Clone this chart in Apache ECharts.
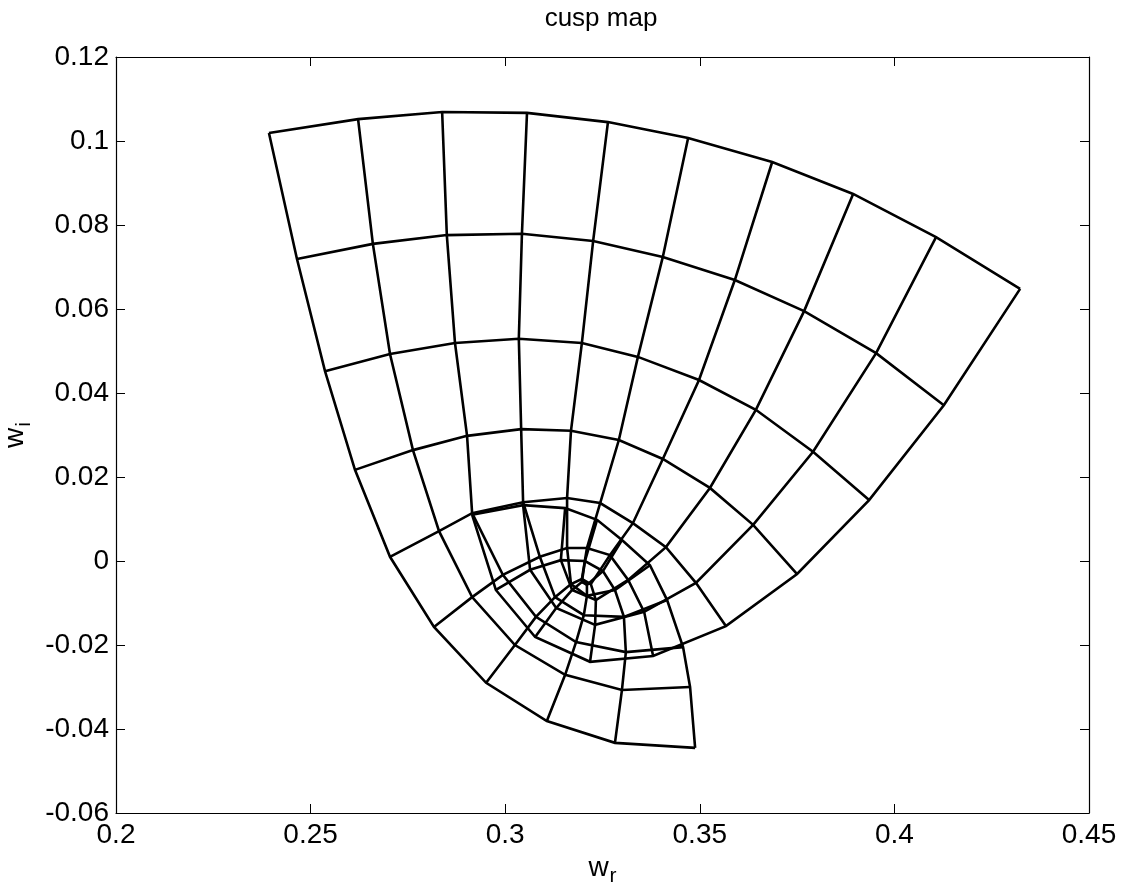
<!doctype html>
<html lang="en">
<head>
<meta charset="UTF-8"/>
<title>cusp map</title>
<script src="https://cdn.jsdelivr.net/npm/echarts@6/dist/echarts.min.js"></script>
<style>
  html, body { margin: 0; padding: 0; background: #fff; }
  #main { width: 1130px; height: 892px; }
</style>
</head>
<body>
<div id="main"></div>
<script type="text/javascript">
// mesh nodes
// rowX[i][j], rowY[i][j]: node on curve i of one family and curve j of the other
var rowX = [
  [0.2393, 0.2622, 0.2838, 0.3056, 0.3264, 0.3470, 0.3686, 0.3894, 0.4107, 0.4323],
  [0.2465, 0.2660, 0.2850, 0.3043, 0.3226, 0.3405, 0.3590, 0.3768, 0.3953, 0.4127],
  [0.2537, 0.2704, 0.2871, 0.3035, 0.3197, 0.3341, 0.3498, 0.3644, 0.3791, 0.3935],
  [0.2614, 0.2763, 0.2902, 0.3041, 0.3169, 0.3292, 0.3405, 0.3526, 0.3637, 0.3750],
  [0.2704, 0.2830, 0.2915, 0.3046, 0.3159, 0.3244, 0.3328, 0.3413, 0.3490, 0.3567],
  [0.2817, 0.2915, 0.2994, 0.3089, 0.3159, 0.3210, 0.3269, 0.3316, 0.3357, 0.3380],
  [0.2951, 0.3025, 0.3079, 0.3128, 0.3169, 0.3197, 0.3220, 0.3233, 0.3231, 0.3218],
  [0.3107, 0.3154, 0.3182, 0.3202, 0.3210, 0.3210, 0.3197, 0.3172, 0.3131, 0.3077],
  [0.3282, 0.3300, 0.3310, 0.3305, 0.3282, 0.3251, 0.3205, 0.3143, 0.3064, 0.2976],
  [0.3488, 0.3475, 0.3457, 0.3416, 0.3372, 0.3300, 0.3236, 0.3154, 0.3046, 0.2915]
];
var rowY = [
  [0.1019, 0.1052, 0.1069, 0.1067, 0.1045, 0.1007, 0.0950, 0.0874, 0.0771, 0.0648],
  [0.0719, 0.0755, 0.0776, 0.0779, 0.0762, 0.0724, 0.0669, 0.0595, 0.0495, 0.0371],
  [0.0452, 0.0493, 0.0519, 0.0529, 0.0519, 0.0486, 0.0431, 0.0360, 0.0260, 0.0145],
  [0.0217, 0.0264, 0.0298, 0.0314, 0.0310, 0.0288, 0.0243, 0.0174, 0.0086, -0.0031],
  [0.0010, 0.0071, 0.0114, 0.0140, 0.0150, 0.0138, 0.0090, 0.0033, -0.0052, -0.0155],
  [-0.0157, -0.0086, -0.0033, 0.0010, 0.0031, 0.0031, 0.0014, -0.0045, -0.0121, -0.0226],
  [-0.0290, -0.0200, -0.0133, -0.0086, -0.0055, -0.0043, -0.0055, -0.0093, -0.0152, -0.0240],
  [-0.0381, -0.0271, -0.0193, -0.0129, -0.0083, -0.0057, -0.0050, -0.0069, -0.0112, -0.0181],
  [-0.0433, -0.0307, -0.0217, -0.0133, -0.0069, -0.0024, 0.0000, 0.0002, -0.0021, -0.0069],
  [-0.0445, -0.0300, -0.0205, -0.0093, -0.0010, 0.0050, 0.0098, 0.0126, 0.0133, 0.0110]
];
var xTicks = [0.2, 0.25, 0.3, 0.35, 0.4, 0.45];
var yTicks = [-0.06, -0.04, -0.02, 0, 0.02, 0.04, 0.06, 0.08, 0.1, 0.12];

var font = '"Liberation Sans", Arial, Helvetica, sans-serif';

// one polyline per row and one per column
var lines = [];
for (var i = 0; i < rowX.length; i++) {
  var d = [];
  for (var j = 0; j < rowX[i].length; j++) d.push([rowX[i][j], rowY[i][j]]);
  lines.push(d);
}
for (var j = 0; j < rowX[0].length; j++) {
  var d = [];
  for (var i = 0; i < rowX.length; i++) d.push([rowX[i][j], rowY[i][j]]);
  lines.push(d);
}
var series = lines.map(function (d) {
  return {
    type: 'line',
    data: d,
    symbol: 'none',
    silent: true,
    lineStyle: { color: '#000', width: 2.6, join: 'miter' }
  };
});

function fmt(v) { return String(+v.toFixed(2)); }
var tick = { inside: true, length: 9, lineStyle: { color: '#000', width: 1 } };
var line = { onZero: false, lineStyle: { color: '#000', width: 1.2 } };

var myChart = echarts.init(document.getElementById('main'));
var option = {
  animation: false,
  backgroundColor: '#fff',
  graphic: [{
    type: 'text', x: 601, y: 19,
    style: {
      text: 'cusp map', fill: '#000',
      font: '26px ' + font,
      textAlign: 'center', textVerticalAlign: 'middle'
    }
  }],
  grid: { left: 116, right: 41, top: 57, bottom: 79, outerBoundsMode: 'none' },
  xAxis: [{
    type: 'value', min: xTicks[0], max: xTicks[xTicks.length - 1], interval: 0.05,
    axisLine: line, axisTick: tick, splitLine: { show: false },
    axisLabel: { margin: 8, color: '#000', fontSize: 28, fontFamily: font, formatter: fmt },
    name: '{a|w}{b|r}', nameLocation: 'middle', nameGap: 31,
    nameTextStyle: {
      rich: {
        a: { fontFamily: font, fontSize: 28, color: '#000' },
        b: { fontFamily: font, fontSize: 21, color: '#000', padding: [16, 0, 0, 1] }
      }
    }
  }, {
    type: 'value', position: 'top', min: xTicks[0], max: xTicks[xTicks.length - 1], interval: 0.05,
    axisLine: line, axisTick: tick, axisLabel: { show: false }, splitLine: { show: false }
  }],
  yAxis: [{
    type: 'value', min: yTicks[0], max: yTicks[yTicks.length - 1], interval: 0.02,
    axisLine: line, axisTick: tick, splitLine: { show: false },
    axisLabel: { margin: 7, color: '#000', fontSize: 28, fontFamily: font, formatter: fmt },
    name: '{a|w}{b|i}', nameLocation: 'middle', nameGap: 73, nameRotate: 90,
    nameTextStyle: {
      rich: {
        a: { fontFamily: font, fontSize: 28, color: '#000' },
        b: { fontFamily: font, fontSize: 21, color: '#000', padding: [16, 0, 0, 1] }
      }
    }
  }, {
    type: 'value', position: 'right', min: yTicks[0], max: yTicks[yTicks.length - 1], interval: 0.02,
    axisLine: line, axisTick: tick, axisLabel: { show: false }, splitLine: { show: false }
  }],
  series: series
};
myChart.setOption(option);
</script>
</body>
</html>
